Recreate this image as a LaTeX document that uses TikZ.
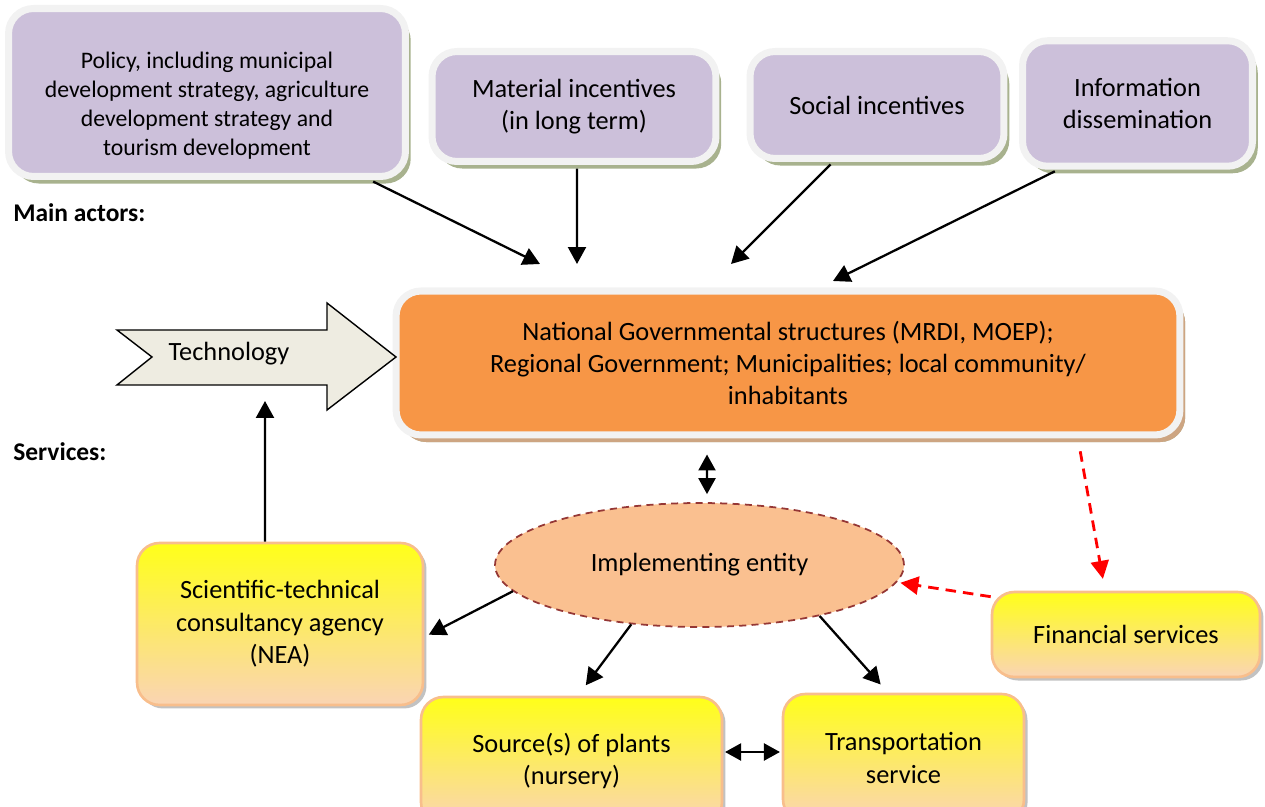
\documentclass[tikz,border=0pt]{standalone}
\usepackage{fontspec}
\setmainfont{Carlito}
\usetikzlibrary{arrows.meta,shapes.geometric,shadows}

\definecolor{actorfill}{RGB}{204,192,218}
\definecolor{actorshadow}{RGB}{168,178,142}
\definecolor{rimgray}{RGB}{242,242,242}
\definecolor{govfill}{RGB}{247,150,70}
\definecolor{govshadow}{RGB}{205,165,130}
\definecolor{entityfill}{RGB}{250,192,144}
\definecolor{entityline}{RGB}{149,55,53}
\definecolor{techfill}{RGB}{238,236,225}
\definecolor{servtop}{RGB}{255,255,25}
\definecolor{servbot}{RGB}{250,212,180}
\definecolor{servrim}{RGB}{248,190,140}

\begin{document}
\begin{tikzpicture}[x=0.02cm, y=-0.02cm,
		txt/.style={font=\fontsize{15}{18.4}\selectfont},
		actor/.style={txt, rounded corners=0.5cm, fill=actorfill, draw=rimgray, line width=4pt, align=center, inner sep=0pt,
			drop shadow={shadow xshift=3pt, shadow yshift=-4pt, fill=actorshadow, opacity=1}},
		gov/.style={actor, fill=govfill, drop shadow={shadow xshift=3pt, shadow yshift=-4pt, fill=govshadow, opacity=1}},
		service/.style={txt, rounded corners=0.45cm, top color=servtop, bottom color=servbot, draw=servrim, line width=1.5pt, align=center, inner sep=0pt,
			drop shadow={shadow xshift=2pt, shadow yshift=-2pt, fill=black!40, opacity=0.6}},
		entity/.style={txt, ellipse, fill=entityfill, draw=entityline, line width=1pt, dash pattern=on 4pt off 3pt, inner sep=0pt},
		heading/.style={anchor=west, inner sep=0pt, font=\bfseries\fontsize{14.5}{17}\selectfont},
		arr/.style={-{Triangle[width=0.36cm,length=0.34cm]}, line width=1.3pt},
		dblarr/.style={{Triangle[width=0.34cm,length=0.32cm]}-{Triangle[width=0.34cm,length=0.32cm]}, line width=1.3pt},
		redarr/.style={-{Triangle[width=0.36cm,length=0.36cm]}, red, line width=1.6pt, dash pattern=on 6pt off 4pt}]
	\useasboundingbox (0,0) rectangle (1265,807);
	\clip (0,0) rectangle (1265,807);
	
	% Main actors
	\node[actor, minimum width=7.94cm, minimum height=3.36cm, font=\fontsize{13.5}{16.5}\selectfont] (policy) at (207,92.5)
		{\rule{0pt}{0.84cm}Policy, including municipal\\development strategy, agriculture\\development strategy and\\tourism development};
	\node[actor, minimum width=5.68cm, minimum height=2.2cm] (material) at (574,106.5) {Material incentives\\(in long term)};
	\node[actor, minimum width=5.08cm, minimum height=2.14cm] (social) at (877,105) {Social incentives};
	\node[actor, minimum width=4.6cm, minimum height=2.51cm] (info) at (1137.5,103.5) {Information\\dissemination};
	\node[heading] (mainactors) at (13,213) {Main actors:};
	
	\node[gov, minimum width=15.68cm, minimum height=2.88cm] (gov) at (788,363)
		{National Governmental structures (MRDI, MOEP);\\Regional Government; Municipalities; local community/\\inhabitants};
	
	% Technology
	\draw[fill=techfill, line width=0.8pt] (117,330) -- (327,330) -- (327,303) -- (396,357) -- (327,410) -- (327,385) -- (117,385) -- (152,357) -- cycle;
	\node[txt] (tech) at (229,354) {Technology};
	\coordinate (techfoot) at (265,401);
	
	% Services
	\node[heading] (services) at (13,452) {Services:};
	\node[entity, minimum width=8.18cm, minimum height=2.48cm] (impl) at (699.5,565) {Implementing entity};
	\node[service, minimum width=5.72cm, minimum height=3.24cm] (nea) at (280,624) {Scientific-technical\\consultancy agency\\(NEA)};
	\node[service, minimum width=5.36cm, minimum height=1.7cm] (fin) at (1126,634.5) {Financial services};
	\node[service, minimum width=6.02cm, minimum height=2.56cm] (nursery) at (571.5,761) {Source(s) of plants\\(nursery)};
	\node[service, minimum width=4.82cm, minimum height=2.56cm] (transport) at (903.5,758) {Transportation\\service};
	
	% Arrows to the actors
	\coordinate (policytip) at (540,264);
	\coordinate (materialtip) at (577,264);
	\coordinate (socialtip) at (731,264);
	\coordinate (infotip) at (833,281);
	\draw[arr, shorten <=2pt] ([xshift=3.26cm]policy.south) -- (policytip);
	\draw[arr, shorten <=2pt] ([xshift=0.06cm]material.south) -- (materialtip);
	\draw[arr, shorten <=2pt] ([xshift=-0.88cm]social.south) -- (socialtip);
	\draw[arr, shorten <=2pt] ([xshift=-1.59cm]info.south) -- (infotip);
	
	% Links between services
	\draw[dblarr, shorten <=0.32cm, shorten >=0.16cm] ([xshift=-1.62cm]gov.south) -- ([xshift=0.15cm]impl.north);
	\draw[arr] ([xshift=-0.3cm]nea.north) -- (techfoot);
	\draw[arr, shorten >=0.1cm] (impl.188) -- ([yshift=-0.26cm]nea.east);
	\draw[arr, shorten >=0.26cm] (impl.221) -- ([xshift=0.13cm]nursery.north);
	\draw[arr, shorten >=0.22cm] (impl.337) -- ([xshift=-0.31cm]transport.north);
	\draw[dblarr, shorten <=1pt, shorten >=1pt] ([yshift=0.18cm]nursery.east) -- ([yshift=0.18cm]nursery.east -| transport.west);
	\draw[redarr, shorten <=0.26cm, shorten >=0.24cm] ([xshift=5.8cm]gov.south) -- ([xshift=-0.42cm]fin.north);
	\draw[redarr, shorten >=2pt] ([yshift=-0.12cm]fin.north west) -- (impl.355);
\end{tikzpicture}
\end{document}
